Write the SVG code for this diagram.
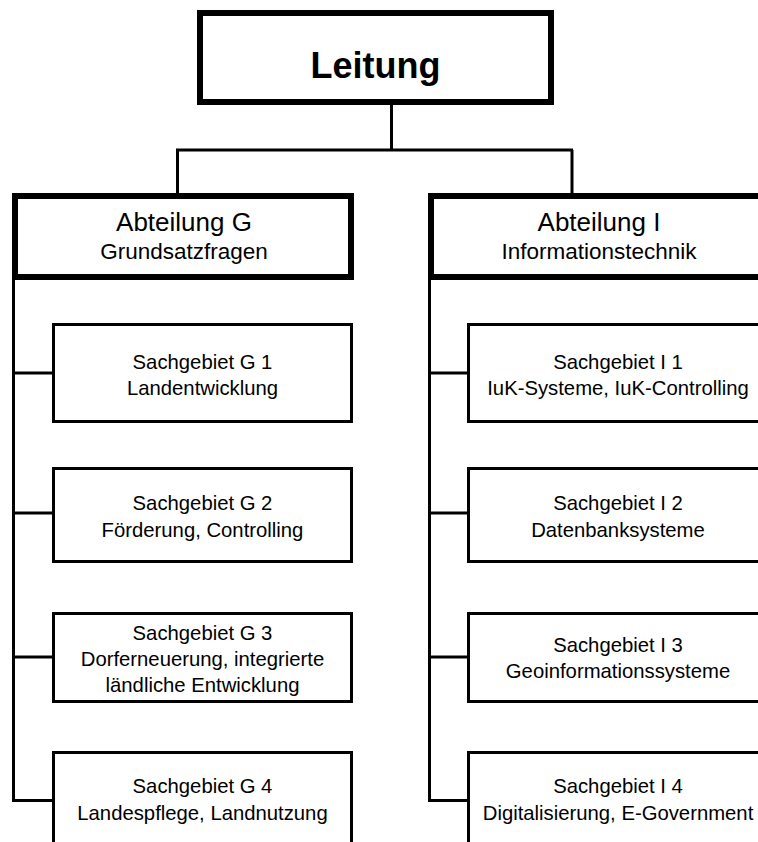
<svg xmlns="http://www.w3.org/2000/svg" width="758" height="842" viewBox="0 0 758 842">
<style>
text{font-family:"Liberation Sans",Arial,sans-serif;fill:#000;text-anchor:middle}
.top{fill:#fff;stroke:#000;stroke-width:6}
.box{fill:#fff;stroke:#000;stroke-width:3}
.c{fill:none;stroke:#000;stroke-width:3;stroke-linejoin:miter}
.t1{font-size:36px;font-weight:bold}
.a1{font-size:26px}
.a2{font-size:22.5px}
.s{font-size:20.3px}
</style>
<rect width="758" height="842" fill="#fff"/>
<g id="connectors">
<path class="c" d="M391.5,105 V150 M176,150 H573 M177.5,150 V193 M572,150 V193"/>
<path class="c" d="M13.5,278 V800.5 H53.5 M13.5,373 H53.5 M13.5,513 H53.5 M13.5,657 H53.5"/>
<path class="c" d="M429.5,278 V800.5 H468.5 M429.5,373 H468.5 M429.5,513 H468.5 M429.5,657 H468.5"/>
</g>
<g id="leitung">
<rect class="top" x="200" y="13" width="351" height="89"/>
<text class="t1" x="375.5" y="78">Leitung</text>
</g>
<g id="abt-g">
<rect class="top" x="15" y="196" width="336" height="81"/>
<text class="a1" x="184" y="231">Abteilung G</text>
<text class="a2" x="184" y="259">Grundsatzfragen</text>
</g>
<g id="abt-i">
<rect class="top" x="431" y="196" width="336" height="81"/>
<text class="a1" x="599" y="231">Abteilung I</text>
<text class="a2" x="599" y="259">Informationstechnik</text>
</g>
<g id="g1">
<rect class="box" x="53.5" y="324.5" width="298" height="97"/>
<text class="s" x="202.5" y="369">Sachgebiet G 1</text>
<text class="s" x="202.5" y="395">Landentwicklung</text>
</g>
<g id="g2">
<rect class="box" x="53.5" y="468.5" width="298" height="93"/>
<text class="s" x="202.5" y="510">Sachgebiet G 2</text>
<text class="s" x="202.5" y="537">Förderung, Controlling</text>
</g>
<g id="g3">
<rect class="box" x="53.5" y="613.5" width="298" height="88"/>
<text class="s" x="202.5" y="640">Sachgebiet G 3</text>
<text class="s" x="202.5" y="666">Dorferneuerung, integrierte</text>
<text class="s" x="202.5" y="692">ländliche Entwicklung</text>
</g>
<g id="g4">
<rect class="box" x="53.5" y="752.5" width="298" height="100"/>
<text class="s" x="202.5" y="793">Sachgebiet G 4</text>
<text class="s" x="202.5" y="820">Landespflege, Landnutzung</text>
</g>
<g id="i1">
<rect class="box" x="468.5" y="324.5" width="298" height="97"/>
<text class="s" x="618" y="369">Sachgebiet I 1</text>
<text class="s" x="618" y="395">IuK-Systeme, IuK-Controlling</text>
</g>
<g id="i2">
<rect class="box" x="468.5" y="468.5" width="298" height="93"/>
<text class="s" x="618" y="510">Sachgebiet I 2</text>
<text class="s" x="618" y="537">Datenbanksysteme</text>
</g>
<g id="i3">
<rect class="box" x="468.5" y="613.5" width="298" height="88"/>
<text class="s" x="618" y="652">Sachgebiet I 3</text>
<text class="s" x="618" y="678">Geoinformationssysteme</text>
</g>
<g id="i4">
<rect class="box" x="468.5" y="752.5" width="298" height="100"/>
<text class="s" x="618" y="793">Sachgebiet I 4</text>
<text class="s" x="618" y="820">Digitalisierung, E-Government</text>
</g>
</svg>
